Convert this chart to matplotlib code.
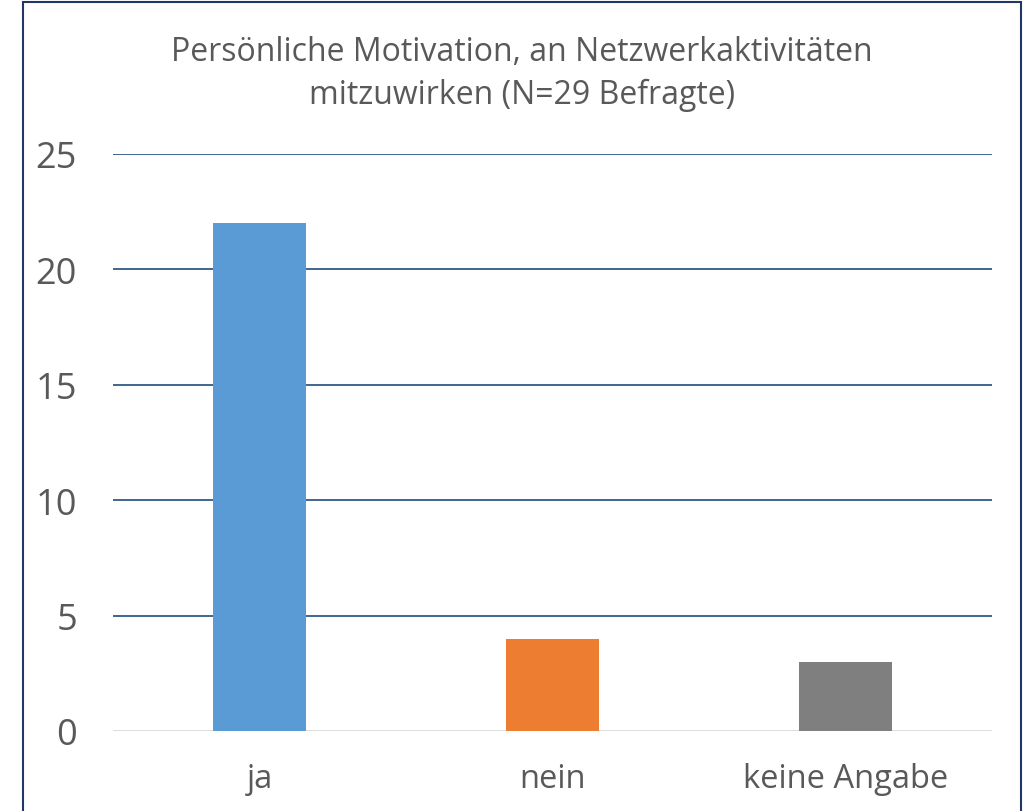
import matplotlib
matplotlib.use("Agg")
from matplotlib import pyplot as plt
from matplotlib.patches import Rectangle

categories = ["ja", "nein", "keine Angabe"]
counts = [22, 4, 3]
colors = ["#5B9BD5", "#ED7D31", "#7F7F7F"]
yticks = [0, 5, 10, 15, 20, 25]
title = "Persönliche Motivation, an Netzwerkaktivitäten\nmitzuwirken (N=29 Befragte)"

plt.rcParams['font.family'] = ['Open Sans', 'DejaVu Sans']

W, H = 1028, 812
fig = plt.figure(figsize=(W / 100, H / 100), dpi=100)
ax = fig.add_axes([113 / W, (H - 732) / H, (992 - 113) / W, (732 - 155) / H])

x = range(len(categories))
ax.bar(x, counts, width=0.32, color=colors, zorder=3)
ax.set_xlim(-0.5, len(categories) - 0.5)
ax.set_ylim(0, 25)
ax.set_yticks(yticks)
ax.set_xticks(list(x))
ax.set_xticklabels(categories)

for y in yticks[1:]:
    ax.axhline(y, color="#1F4E79", linewidth=1.2, zorder=1)
ax.axhline(0, color="#D9D9D9", linewidth=2, zorder=2)

for s in ax.spines.values():
    s.set_visible(False)
ax.tick_params(axis="both", length=0, colors="#595959")
ax.tick_params(axis="y", labelsize=26, pad=26)
ax.tick_params(axis="x", labelsize=23.5, pad=22)

fig.text(522 / W, 1 - 74 / H, title, ha="center", va="center",
         fontsize=23, color="#595959", linespacing=1.4)

fig.patches.append(Rectangle((23 / W, -0.01), (1021 - 23) / W, 1 - 3 / H + 0.01,
                             transform=fig.transFigure, fill=False,
                             edgecolor="#1F3864", linewidth=1.5))

fig.savefig("out.png", dpi=100)
